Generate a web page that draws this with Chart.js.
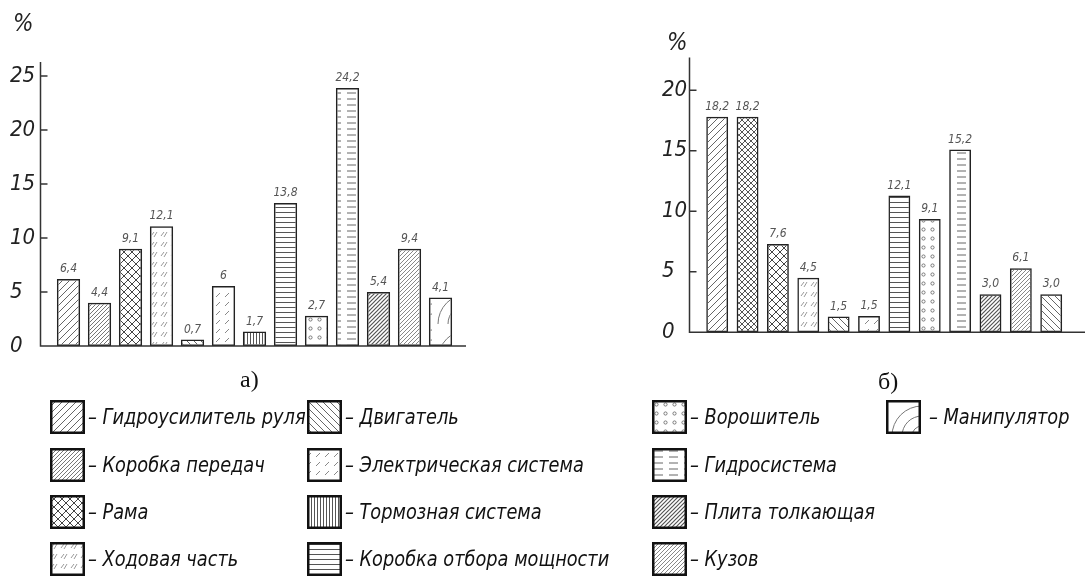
<!DOCTYPE html>
<html>
<head>
<meta charset="utf-8">
<script src="https://cdn.jsdelivr.net/npm/chart.js@4/dist/chart.umd.min.js"></script>
<style>
  body { margin: 0; background: #fff; width: 1085px; height: 577px; overflow: hidden; position: relative;
         font-family: 'Liberation Sans Narrow', 'DejaVu Sans Condensed', sans-serif; }
  .wrap { position: absolute; }
  .pct { position: absolute; font-style: italic; font-size: 24px; line-height: 1; color: #222; }
  .cap { position: absolute; font-family: 'Liberation Serif', 'DejaVu Serif', serif; font-size: 24px; line-height: 1; color: #111; }
  .leg { position: absolute; display: flex; align-items: center; font-style: italic; font-size: 21px; color: #111; white-space: nowrap; }
  .leg canvas { display: block; }
  .leg span { display: inline-block; transform: scaleX(0.94); transform-origin: left center; }
</style>
</head>
<body>
<div class="wrap" style="left:0;top:0;width:480px;height:400px"><canvas id="chartA"></canvas></div>
<div class="wrap" style="left:640px;top:0;width:445px;height:400px"><canvas id="chartB"></canvas></div>
<div class="pct" style="left:13px;top:11px">%</div>
<div class="pct" style="left:667px;top:30px">%</div>
<div class="cap" style="left:240px;top:367px">а)</div>
<div class="cap" style="left:878px;top:369px">б)</div>
<div id="legend"></div>

<script>
// ---- data ----
const partsA = ['Гидроусилитель руля', 'Коробка передач', 'Рама', 'Ходовая часть', 'Двигатель',
  'Электрическая система', 'Тормозная система', 'Коробка отбора мощности', 'Ворошитель',
  'Гидросистема', 'Плита толкающая', 'Кузов', 'Манипулятор'];
const heightsA = [6.2, 4.0, 9.0, 11.1, 0.6, 5.55, 1.35, 13.25, 2.8, 23.9, 5.0, 9.0, 4.5];   // drawn bar heights
const labelsA = ['6,4', '4,4', '9,1', '12,1', '0,7', '6', '1,7', '13,8', '2,7', '24,2', '5,4', '9,4', '4,1'];
const hatchA = ['slash', 'slashDense', 'cross', 'ticks', 'back', 'slashDash', 'vert', 'horiz', 'dots',
  'dashH', 'plita', 'kuzov', 'arcs'];
const yTicksA = [0, 5, 10, 15, 20, 25];

const partsB = ['Гидроусилитель руля', 'Коробка передач', 'Рама', 'Ходовая часть', 'Двигатель',
  'Электрическая система', 'Коробка отбора мощности', 'Ворошитель', 'Гидросистема',
  'Плита толкающая', 'Кузов', 'Манипулятор'];
const heightsB = [17.8, 17.8, 7.3, 4.5, 1.3, 1.35, 11.3, 9.35, 15.1, 3.15, 5.3, 3.15];
const labelsB = ['18,2', '18,2', '7,6', '4,5', '1,5', '1,5', '12,1', '9,1', '15,2', '3,0', '6,1', '3,0'];
const hatchB = ['slash', 'crossDense', 'cross', 'ticks', 'back', 'slashDash', 'horiz', 'dots',
  'dashH', 'plita', 'kuzov', 'back'];
const yTicksB = [0, 5, 10, 15, 20];

const legendNames = ['Гидроусилитель руля', 'Коробка передач', 'Рама', 'Ходовая часть',
  'Двигатель', 'Электрическая система', 'Тормозная система', 'Коробка отбора мощности',
  'Ворошитель', 'Гидросистема', 'Плита толкающая', 'Кузов', 'Манипулятор'];
const legendHatch = ['slash', 'slashDense', 'cross', 'ticks', 'back', 'slashDash', 'vert', 'horiz',
  'dots', 'dashH', 'plita', 'kuzov', 'arcs'];

// ---- hatch patterns ----
function hatch(kind) {
  const c = document.createElement('canvas');
  const sizes = { slash: [7, 7], slashDense: [4, 4], cross: [8, 8], crossDense: [6, 6], ticks: [10, 10],
    back: [7, 7], slashDash: [9, 9], vert: [3, 3], horiz: [4, 5], dots: [9, 9], dashH: [15, 6],
    plita: [4, 4], kuzov: [4, 4], arcs: [36, 36] };
  const [w, h] = sizes[kind];
  c.width = w; c.height = h;
  const g = c.getContext('2d');
  g.lineWidth = 1;
  g.strokeStyle = '#666';
  const line = (x1, y1, x2, y2) => { g.beginPath(); g.moveTo(x1, y1); g.lineTo(x2, y2); g.stroke(); };
  const diag = (s) => { line(-1, s + 1, s + 1, -1); line(-1, 1, 1, -1); line(s - 1, s + 1, s + 1, s - 1); };
  const back = (s) => { line(-1, -1, s + 1, s + 1); line(s - 1, -1, s + 1, 1); line(-1, s - 1, 1, s + 1); };

  if (kind === 'slash') diag(w);
  if (kind === 'slashDense') { g.strokeStyle = '#777'; diag(w); }
  if (kind === 'cross') { g.strokeStyle = '#444'; diag(w); back(w); }
  if (kind === 'crossDense') { g.strokeStyle = '#555'; diag(w); back(w); }
  if (kind === 'ticks') { g.strokeStyle = '#999'; line(1, 6, 4, 2); line(4, 7, 7, 2); }
  if (kind === 'back') back(w);
  if (kind === 'slashDash') { g.strokeStyle = '#888'; line(0, 9, 4, 5); }
  if (kind === 'vert') { g.strokeStyle = '#555'; line(1.5, 0, 1.5, 3); }
  if (kind === 'horiz') { g.strokeStyle = '#555'; line(0, 2.5, 4, 2.5); }
  if (kind === 'dots') { g.strokeStyle = '#777'; g.beginPath(); g.arc(4.5, 4.5, 1.6, 0, Math.PI * 2); g.stroke(); }
  if (kind === 'dashH') { g.strokeStyle = '#666'; line(2, 3, 11, 3); }
  if (kind === 'plita') { g.strokeStyle = '#555'; g.lineWidth = 1.2; diag(w); }
  if (kind === 'kuzov') { g.strokeStyle = '#888'; diag(w); }
  if (kind === 'arcs') {
    g.strokeStyle = '#777';
    [10, 20, 30].forEach(r => { g.beginPath(); g.arc(w, h, r, Math.PI, Math.PI * 1.5); g.stroke(); });
  }
  return g.createPattern(c, 'repeat');
}

// ---- plugins ----
const gostAxes = {
  id: 'gostAxes',
  afterDatasetsDraw(chart, args, o) {
    const { ctx, chartArea: a, scales: { y } } = chart;
    const ax = a.left - o.gap;
    const y0 = y.getPixelForValue(0);
    ctx.save();
    ctx.strokeStyle = '#333';
    ctx.lineWidth = 1.5;
    ctx.beginPath();
    ctx.moveTo(ax, a.top);
    ctx.lineTo(ax, y0);
    ctx.lineTo(a.right + o.ext, y0);
    y.ticks.forEach(t => {
      if (t.value > 0) {
        const py = y.getPixelForValue(t.value);
        ctx.moveTo(ax, py);
        ctx.lineTo(ax + 7, py);
      }
    });
    ctx.stroke();
    ctx.restore();
  }
};

const barValues = {
  id: 'barValues',
  afterDatasetsDraw(chart, args, o) {
    const { ctx } = chart;
    ctx.save();
    ctx.font = "italic 12px 'Liberation Sans Narrow', 'DejaVu Sans Condensed', sans-serif";
    ctx.fillStyle = '#555';
    ctx.textAlign = 'center';
    ctx.textBaseline = 'bottom';
    chart.getDatasetMeta(0).data.forEach((bar, i) => {
      ctx.fillText(o.texts[i], bar.x, bar.y - 4);
    });
    ctx.restore();
  }
};

function makeChart(id, parts, heights, texts, hatches, yTicks, yMax, lay) {
  return new Chart(document.getElementById(id), {
    type: 'bar',
    data: {
      labels: parts,
      datasets: [{
        data: heights,
        backgroundColor: hatches.map(hatch),
        borderColor: '#222',
        borderWidth: 1.5,
        borderSkipped: false,
        barPercentage: lay.bar,
        categoryPercentage: 1
      }]
    },
    options: {
      responsive: true,
      maintainAspectRatio: false,
      animation: false,
      events: [],
      layout: { padding: lay.pad },
      plugins: {
        legend: { display: false },
        tooltip: { enabled: false },
        gostAxes: { gap: lay.gap, ext: lay.ext },
        barValues: { texts }
      },
      scales: {
        x: { display: false },
        y: {
          min: 0,
          max: yMax,
          afterFit: (s) => { s.width = lay.yw; },
          afterBuildTicks: (s) => { s.ticks = yTicks.map(v => ({ value: v })); },
          grid: { display: false, drawTicks: false },
          border: { display: false },
          ticks: {
            crossAlign: 'far',
            color: '#222',
            font: { family: "'Liberation Sans Narrow', 'DejaVu Sans Condensed', sans-serif", size: 22, style: 'italic' }
          }
        }
      }
    },
    plugins: [gostAxes, barValues]
  });
}

makeChart('chartA', partsA, heightsA, labelsA, hatchA, yTicksA, 26.3,
  { pad: { left: 10, right: 24, top: 62, bottom: 54 }, yw: 43, gap: 12.5, ext: 10, bar: 0.75 });
makeChart('chartB', partsB, heightsB, labelsB, hatchB, yTicksB, 22.7,
  { pad: { left: 22, right: 18.6, top: 57.5, bottom: 67.7 }, yw: 40, gap: 12.5, ext: 19, bar: 0.72 });

// ---- legend ----
const legendColX = [50, 307, 652, 886];
const legendRowY = [400, 448, 495, 542];
const legend = document.getElementById('legend');
legendNames.forEach((name, i) => {
  const col = Math.floor(i / 4), row = i % 4;
  const item = document.createElement('div');
  item.className = 'leg';
  item.style.left = legendColX[col] + 'px';
  item.style.top = legendRowY[row] + 'px';
  const sw = document.createElement('canvas');
  sw.width = 35; sw.height = 34;
  const g = sw.getContext('2d');
  g.fillStyle = hatch(legendHatch[i]);
  g.fillRect(0, 0, 35, 34);
  g.strokeStyle = '#111';
  g.lineWidth = 2.5;
  g.strokeRect(1.25, 1.25, 32.5, 31.5);
  const txt = document.createElement('span');
  txt.textContent = '– ' + name;
  txt.style.marginLeft = (col === 3 ? 8 : 3) + 'px';
  item.appendChild(sw);
  item.appendChild(txt);
  legend.appendChild(item);
});
</script>
</body>
</html>
